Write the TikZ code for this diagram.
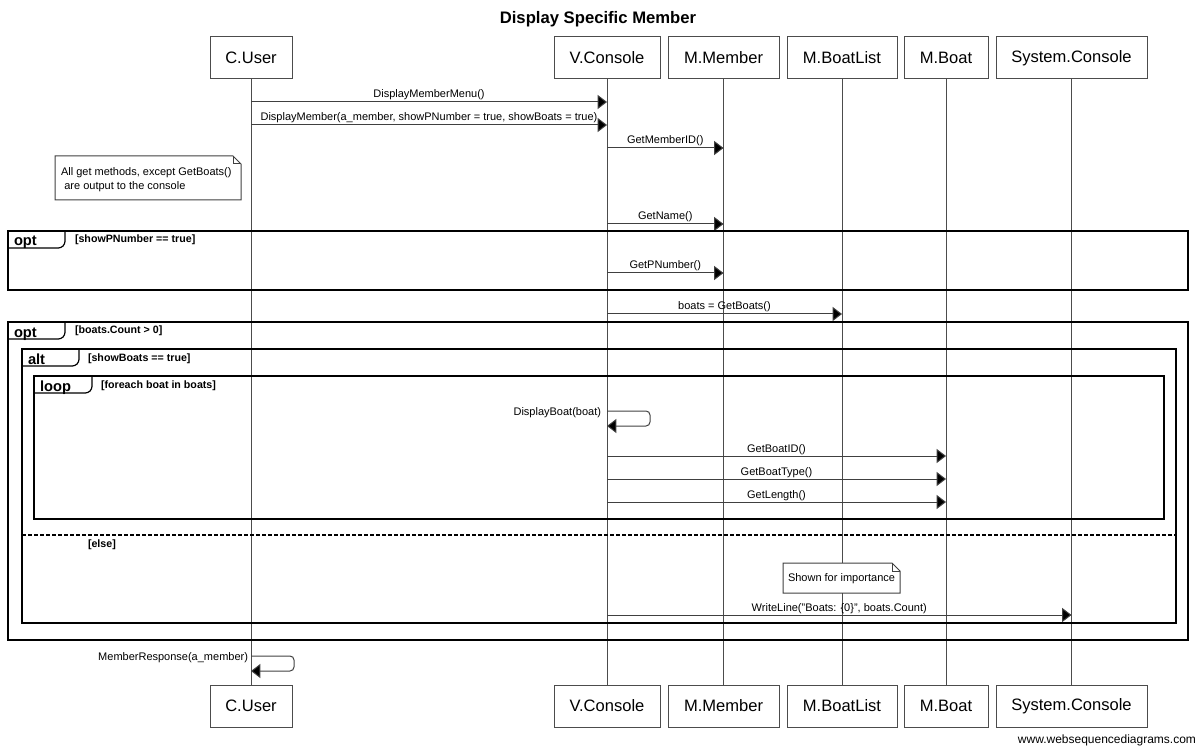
\documentclass[tikz,border=0pt]{standalone}
\usepackage{fontspec}
\setmainfont{Liberation Sans}
\usetikzlibrary{arrows.meta,calc}
\pgfdeclarelayer{back}
\pgfsetlayers{back,main}
\begin{document}
\begin{tikzpicture}[x=0.75pt,y=-0.75pt,
  every node/.style={inner sep=0pt, outer sep=0pt},
  part/.style={draw=black!70, line width=0.75pt, fill=white, minimum height=31.5pt,
    font=\fontsize{12.4}{14}\selectfont},
  life/.style={draw=black!70, line width=0.75pt},
  msg/.style={draw=black!75, line width=0.75pt, -{Triangle[length=7pt,width=10.5pt,fill=black]}},
  selfmsg/.style={msg, rounded corners=3pt},
  lbl/.style={font=\fontsize{8.25}{10}\selectfont, anchor=base, yshift=3pt},
  slbl/.style={font=\fontsize{8.25}{10}\selectfont, anchor=base east},
  frame/.style={draw=black, line width=1.5pt},
  tabline/.style={draw=black, line width=0.9pt, rounded corners=2pt},
  kw/.style={font=\bfseries\fontsize{11}{13}\selectfont, anchor=base west},
  guard/.style={font=\bfseries\fontsize{8}{10}\selectfont, anchor=base west},
  notebox/.style={fill=white, anchor=north west},
  notetext/.style={font=\fontsize{8.25}{10.5}\selectfont},
  notedraw/.style={draw=black!75, line width=0.75pt}
]
\useasboundingbox (0,0) rectangle (1198,748);

% title
\node[font=\bfseries\fontsize{12.5}{15}\selectfont] (title) at (598,19.5) {Display Specific Member};

% participants (top)
\node[part, minimum width=61.5pt]  (cu) at (251,58)    {C.User};
\node[part, minimum width=79.5pt]  (vc) at (607,58)    {V.Console};
\node[part, minimum width=83.25pt] (mm) at (723.5,58)  {M.Member};
\node[part, minimum width=82.5pt]  (bl) at (842,58)    {M.BoatList};
\node[part, minimum width=63pt]    (mb) at (946,58)    {M.Boat};
\node[part, minimum width=113.25pt](sc) at (1071.5,58) {System.Console};
% participants (bottom)
\node[part, minimum width=61.5pt]  (cub) at (251,706)    {C.User};
\node[part, minimum width=79.5pt]  (vcb) at (607,706)    {V.Console};
\node[part, minimum width=83.25pt] (mmb) at (723.5,706)  {M.Member};
\node[part, minimum width=82.5pt]  (blb) at (842,706)    {M.BoatList};
\node[part, minimum width=63pt]    (mbb) at (946,706)    {M.Boat};
\node[part, minimum width=113.25pt](scb) at (1071.5,706) {System.Console};

% lifelines
\begin{pgfonlayer}{back}
\draw[life] (cu.south) -- (cub.north);
\draw[life] (vc.south) -- (vcb.north);
\draw[life] (mm.south) -- (mmb.north);
\draw[life] (bl.south) -- (blb.north);
\draw[life] (mb.south) -- (mbb.north);
\draw[life] (sc.south) -- (scb.north);
\end{pgfonlayer}

% messages
\draw[msg] (cu |- 0,102) -- (vc |- 0,102) node[lbl, midway] (l1) {DisplayMemberMenu()};
\draw[msg] (cu |- 0,125) -- (vc |- 0,125) node[lbl, midway] (l2) {DisplayMember(a\_member, showPNumber = true, showBoats = true)};
\draw[msg] (vc |- 0,148) -- (mm |- 0,148) node[lbl, midway] (l3) {GetMemberID()};
\draw[msg] (vc |- 0,224) -- (mm |- 0,224) node[lbl, midway] (l4) {GetName()};
\draw[msg] (vc |- 0,273) -- (mm |- 0,273) node[lbl, midway] (l5) {GetPNumber()};
\draw[msg] (vc |- 0,314) -- (bl |- 0,314) node[lbl, midway] (l6) {boats = GetBoats()};
\draw[selfmsg] (vc |- 0,411) -- (650,411) -- (650,426) -- (vc |- 0,426);
\node[slbl] (l7) at (601,415) {DisplayBoat(boat)};
\draw[msg] (vc |- 0,456) -- (mb |- 0,456) node[lbl, midway] (l8) {GetBoatID()};
\draw[msg] (vc |- 0,479) -- (mb |- 0,479) node[lbl, midway] (l9) {GetBoatType()};
\draw[msg] (vc |- 0,502) -- (mb |- 0,502) node[lbl, midway] (l10) {GetLength()};
\draw[msg] (vc |- 0,615) -- (sc |- 0,615) node[lbl, midway] (l11) {WriteLine("Boats: \{0\}", boats.Count)};
\draw[selfmsg] (cu |- 0,656) -- (294,656) -- (294,671) -- (cu |- 0,671);
\node[slbl] (l12) at (248,660) {MemberResponse(a\_member)};

% notes
\node[notebox, minimum width=139.5pt, minimum height=33pt] (n1) at (55,156) {};
\node[notetext, align=left, anchor=west] (n1t) at ($(n1.west)+(6,2)$)
  {All get methods, except GetBoats()\\\hspace*{2.5pt}are output to the console};
\node[notebox, minimum width=87.75pt, minimum height=22.5pt] (n2) at (783,563) {};
\node[notetext] (n2t) at ($(n2.center)+(0,1)$) {Shown for importance};
\foreach \n in {n1,n2}{
  \draw[notedraw] (\n.north west) -- ([xshift=-6pt]\n.north east) -- ([yshift=-6pt]\n.north east)
     -- (\n.south east) -- (\n.south west) -- cycle;
  \draw[notedraw] ([xshift=-6pt]\n.north east) |- ([yshift=-6pt]\n.north east);
}

% opt [showPNumber == true]
\draw[frame] (8,231) rectangle (1188,290);
\draw[tabline] (8,248) -- (61,248) -- (65,244) -- (65,231);
\node[kw] (k1) at (14,246) {opt};
\node[guard] (g1) at (75,243) {[showPNumber == true]};

% opt [boats.Count > 0]
\draw[frame] (8,322) rectangle (1188,640);
\draw[tabline] (8,339) -- (61,339) -- (65,335) -- (65,322);
\node[kw] (k2) at (14,337) {opt};
\node[guard] (g2) at (75,334) {[boats.Count > 0]};

% alt [showBoats == true]
\draw[frame] (22,349) rectangle (1176,623);
\draw[tabline] (22,366) -- (75,366) -- (79,362) -- (79,349);
\node[kw] (k3) at (28,364) {alt};
\node[guard] (g3) at (88,361) {[showBoats == true]};
\draw[frame, line width=1.1pt, dash pattern=on 3pt off 1.5pt] (22,535) -- (1176,535);
\node[guard] (g4) at (88,547) {[else]};

% loop [foreach boat in boats]
\draw[frame] (34,376) rectangle (1164,519);
\draw[tabline] (34,393) -- (88,393) -- (92,389) -- (92,376);
\node[kw] (k4) at (40,391) {loop};
\node[guard] (g5) at (101,388) {[foreach boat in boats]};

% watermark
\node[font=\fontsize{9}{11}\selectfont, anchor=base east] (wm) at (1196,743) {www.websequencediagrams.com};
\end{tikzpicture}
\end{document}
